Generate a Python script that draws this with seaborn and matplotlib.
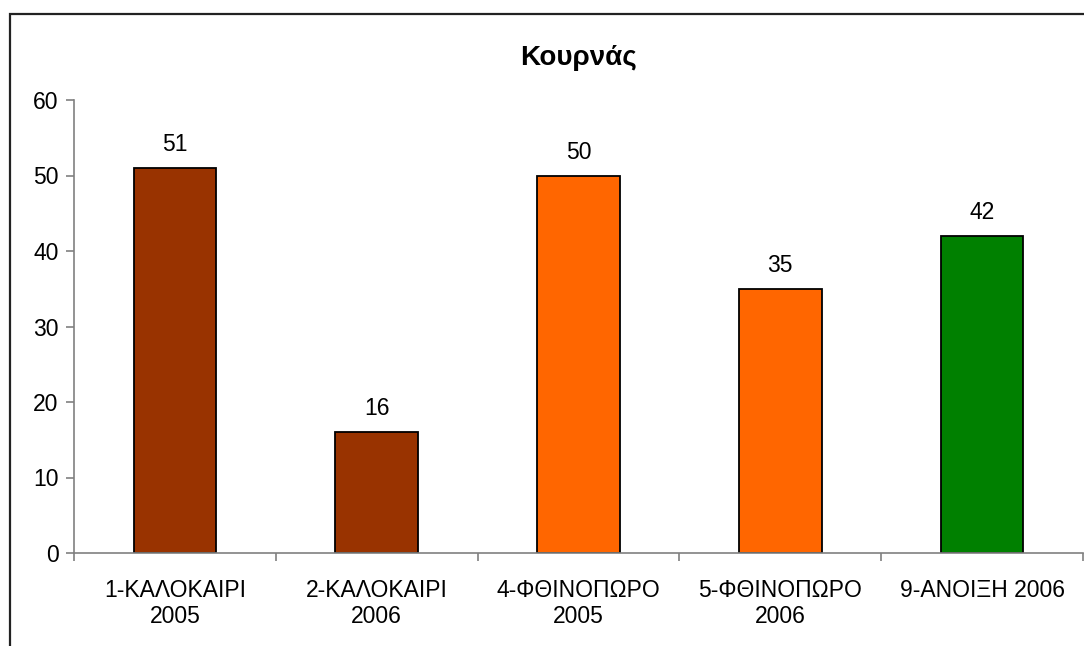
import numpy as np
import pandas as pd
import matplotlib.pyplot as plt
import seaborn as sns
from matplotlib.patches import Rectangle

# data
categories = ["1-ΚΑΛΟΚΑΙΡΙ\n2005", "2-ΚΑΛΟΚΑΙΡΙ\n2006", "4-ΦΘΙΝΟΠΩΡΟ\n2005",
              "5-ΦΘΙΝΟΠΩΡΟ\n2006", "9-ΑΝΟΙΞΗ 2006"]
values = [51, 16, 50, 35, 42]
bar_colors = ["#993300", "#993300", "#FF6600", "#FF6600", "#008000"]
title = "Κουρνάς"

sns.set_style("white")
plt.rcParams['font.family'] = ['Liberation Sans', 'DejaVu Sans']
plt.rcParams['text.color'] = 'black'
plt.rcParams['xtick.color'] = 'black'
plt.rcParams['ytick.color'] = 'black'

df = pd.DataFrame({"cat": categories, "val": values})

fig = plt.figure(figsize=(10.84, 6.46), dpi=100)
ax = fig.add_axes([74 / 1084, 1 - 553 / 646, 1009 / 1084, 453 / 646])

sns.barplot(data=df, x="cat", y="val", hue="cat", palette=bar_colors, legend=False,
            width=0.41, edgecolor="black", linewidth=1.3, saturation=1, ax=ax)

# value labels above bars
for i, v in enumerate(values):
    ax.annotate(str(v), (i, v), xytext=(0, 8.5), textcoords="offset points",
                ha="center", va="bottom", fontsize=16.5, color="black")

ax.set_xlim(-0.5, len(categories) - 0.5)
ax.set_ylim(0, 60)
ax.set_yticks(np.arange(0, 61, 10))
ax.set_xlabel("")
ax.set_ylabel("")
ax.set_title(title, fontsize=20, fontweight="bold", pad=25, color="black")

for s in ["top", "right"]:
    ax.spines[s].set_visible(False)
for s in ["left", "bottom"]:
    ax.spines[s].set_color("#808080")
    ax.spines[s].set_linewidth(1.2)

# category tick marks between categories
ax.set_xticks(np.arange(-0.5, len(categories), 1), minor=True)
ax.tick_params(axis="x", which="major", length=0, labelsize=16.5, pad=18.5)
ax.tick_params(axis="x", which="minor", bottom=True, length=6, color="#808080",
               width=1.2, direction="out")
ax.tick_params(axis="y", left=True, length=6, color="#808080", width=1.2,
               direction="out", labelsize=16.5, labelcolor="black", pad=5)
for t in ax.get_xticklabels():
    t.set_linespacing(1.17)

# chart frame
fig.patches.append(Rectangle((10 / 1084, -0.1), 1.2, 1 - 14 / 646 + 0.1,
                             transform=fig.transFigure, fill=False,
                             edgecolor="#222222", linewidth=1.6))

fig.savefig("out.png", dpi=100)
